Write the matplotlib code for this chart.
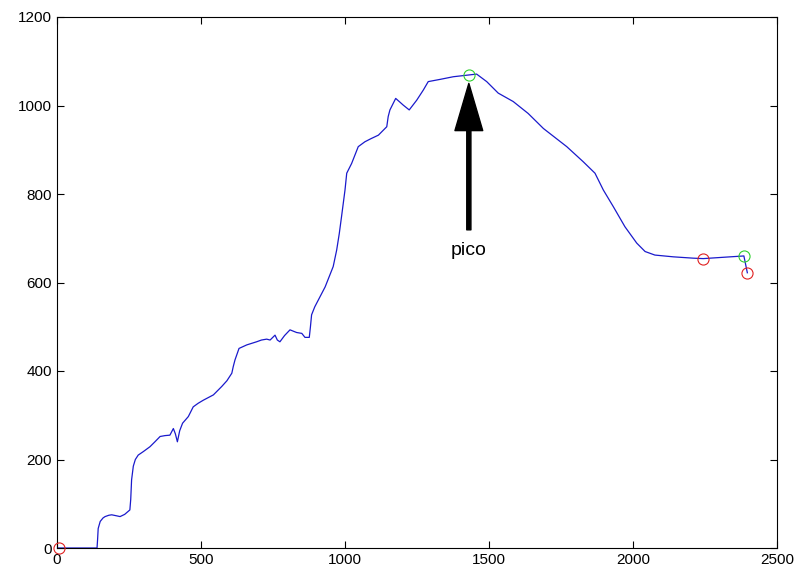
import matplotlib
matplotlib.use("Agg")
import matplotlib.pyplot as plt

x_vals = [0, 139, 141, 143, 150, 160, 167, 180, 190, 205, 219, 235, 253, 256, 259, 265, 272, 282,
          300, 323, 340, 358, 375, 392, 404, 411, 418, 426, 436, 456, 473, 490, 508, 543, 572,
          590, 607, 612, 618, 632, 659, 693, 710, 728, 740, 757, 765, 774, 790, 809, 832, 850,
          861, 876, 880, 884, 895, 907, 931, 959, 971, 980, 988, 1000, 1006, 1023, 1046, 1069,
          1090, 1116, 1145, 1150, 1156, 1176, 1190, 1202, 1223, 1249, 1272, 1289, 1330, 1376,
          1430, 1457, 1492, 1532, 1584, 1636, 1689, 1770, 1827, 1868, 1897, 1932, 1972, 2013,
          2042, 2076, 2140, 2209, 2244, 2314, 2385, 2397]
y_vals = [0, 0, 20, 44, 60, 68, 71, 74, 75, 73, 71, 76, 86, 110, 154, 185, 200, 210,
          218, 229, 240, 252, 254, 255, 270, 258, 240, 265, 282, 297, 319, 327, 334, 346, 365,
          378, 395, 410, 425, 451, 459, 466, 470, 472, 470, 481, 470, 466, 480, 493, 487, 485,
          476, 476, 500, 527, 545, 560, 590, 636, 673, 710, 749, 809, 847, 869, 907, 918,
          925, 933, 952, 975, 990, 1016, 1008, 1001, 990, 1012, 1035, 1054, 1059, 1065,
          1069, 1071, 1054, 1028, 1009, 982, 948, 907, 873, 847, 809, 771, 726, 689,
          670, 662, 658, 655, 654, 657, 660, 622]

red_x = [8, 2244, 2397]
red_y = [0, 654, 622]
green_x = [1430, 2385]
green_y = [1069, 660]

peak_label = "pico"
x_ticks = [0, 500, 1000, 1500, 2000, 2500]
y_ticks = [0, 200, 400, 600, 800, 1000, 1200]

plt.rcParams['font.family'] = ['Liberation Sans', 'DejaVu Sans']

fig = plt.figure(figsize=(7.98, 5.74), dpi=100)
ax = fig.add_axes([57/798, 26/574, 720/798, 531/574])

ax.plot(x_vals, y_vals, color='#1a1acc', linewidth=0.9)
ax.plot(red_x, red_y, 'o', markersize=8, markerfacecolor='none',
        markeredgecolor='#e02020', markeredgewidth=0.8, clip_on=False, zorder=5)
ax.plot(green_x, green_y, 'o', markersize=8, markerfacecolor='none',
        markeredgecolor='#30d030', markeredgewidth=0.8, clip_on=False, zorder=5)

ax.annotate('', xy=(1430, 1050), xytext=(1430, 719),
            arrowprops=dict(facecolor='black', edgecolor='black', width=3,
                            headwidth=20, headlength=34, shrink=0))
ax.text(1430, 673, peak_label, ha='center', va='center', fontsize=14)

ax.set_xlim(0, 2500)
ax.set_ylim(0, 1200)
ax.set_xticks(x_ticks)
ax.set_yticks(y_ticks)
ax.tick_params(direction='in', top=True, right=True, length=5, width=0.8,
               labelsize=11, colors='black')
for s in ax.spines.values():
    s.set_linewidth(0.8)

fig.savefig('out.png', dpi=100)
